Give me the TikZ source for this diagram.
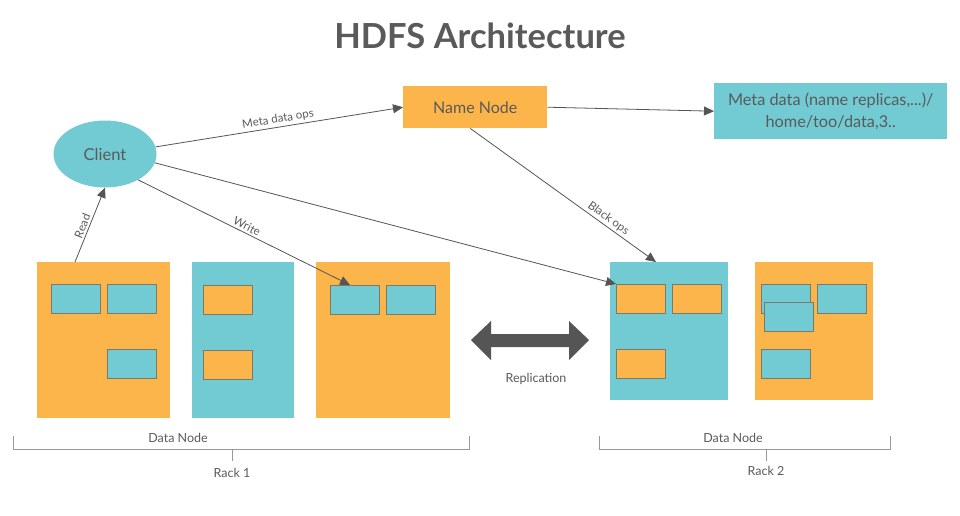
\documentclass[tikz,border=0pt]{standalone}
\usepackage{fontspec}
\setmainfont{Lato}
\usetikzlibrary{arrows.meta,shapes.geometric}
\definecolor{hOrange}{HTML}{FBB54A}
\definecolor{hTeal}{HTML}{72CBD3}
\definecolor{hText}{HTML}{5A5A5A}
\definecolor{hLine}{HTML}{555555}
\definecolor{hEdge}{HTML}{7A7A6A}
\definecolor{hBracket}{HTML}{999999}
\tikzset{
  bigbox/.style={draw=none, inner sep=0, outer sep=0, anchor=north west},
  blk/.style={draw=hEdge, line width=0.9pt, inner sep=0, outer sep=0, anchor=north west, minimum width=49, minimum height=29},
  arr/.style={draw=hLine, line width=0.8pt, -{Triangle[length=10pt,width=9pt]}},
  elabel/.style={font=\fontsize{11.5}{13}\selectfont, text=hText, sloped, inner sep=2pt},
  bracket/.style={draw=hBracket, line width=1pt},
  blabel/.style={font=\fontsize{12.5}{14}\selectfont, text=hText},
}
\begin{document}
\begin{tikzpicture}[x=1pt,y=-1pt]
\useasboundingbox (0,0) rectangle (960,515);
\fill[white] (0,0) rectangle (960,515);

% title
\node[font=\bfseries\fontsize{34.5}{38}\selectfont, text=hText] (title) at (480,36) {HDFS Architecture};

% client
\node[ellipse, fill=hTeal, minimum width=103, minimum height=67, inner sep=0, text=hText, font=\fontsize{16.5}{18}\selectfont] (client) at (105,154) {Client};

% name node
\node[fill=hOrange, minimum width=144, minimum height=42, inner sep=0, anchor=north west] (nn) at (403,86) {};
\node[text=hText, font=\fontsize{16}{18}\selectfont] (nntext) at (nn.center) {Name Node};

% meta data
\node[fill=hTeal, minimum width=233, minimum height=56, inner sep=0, anchor=north west] (meta) at (714,83) {};
\node[text=hText, font=\fontsize{16.3}{22}\selectfont, align=center] (metatext) at (meta.center) {Meta data (name replicas,...)/\\home/too/data,3..};

% rack 1 data nodes
\node[bigbox, fill=hOrange, minimum width=133, minimum height=156] (dnA) at (37,262) {};
\node[bigbox, fill=hTeal, minimum width=102, minimum height=156] (dnB) at (192,262) {};
\node[bigbox, fill=hOrange, minimum width=134, minimum height=156] (dnC) at (316,262) {};

\node[blk, fill=hTeal] (a1) at (51,284) {};
\node[blk, fill=hTeal] (a2) at (107,284) {};
\node[blk, fill=hTeal] (a3) at (107,349) {};
\node[blk, fill=hOrange] (b1) at (203,285) {};
\node[blk, fill=hOrange] (b2) at (203,350) {};
\node[blk, fill=hTeal] (c1) at (330,285) {};
\node[blk, fill=hTeal] (c2) at (386,285) {};

% rack 2 data nodes
\node[bigbox, fill=hTeal, minimum width=118, minimum height=138] (dnD) at (610,262) {};
\node[bigbox, fill=hOrange, minimum width=118, minimum height=138] (dnE) at (755,262) {};

\node[blk, fill=hOrange] (d1) at (616,284) {};
\node[blk, fill=hOrange] (d2) at (672,284) {};
\node[blk, fill=hOrange] (d3) at (616,349) {};
\node[blk, fill=hTeal] (e1) at (761,284) {};
\node[blk, fill=hTeal] (e2) at (817,284) {};
\node[blk, fill=hTeal] (e3) at (764,302) {};
\node[blk, fill=hTeal] (e4) at (761,349) {};

% replication double arrow
\fill[hLine] (471,340) -- (491,321) -- (491,334) -- (569,334) -- (569,321) -- (589,340)
  -- (569,360) -- (569,347) -- (491,347) -- (491,360) -- cycle;
\node[font=\fontsize{12.5}{14}\selectfont, text=hText] (repl) at (536,379) {Replication};

% brackets
\draw[bracket] (13,436) -- (13,449) -- (469,449) -- (469,436);
\draw[bracket] (232,449) -- (232,461);
\node[blabel] (dn1) at (178,438) {Data Node};
\node[blabel] (rack1) at (232,473) {Rack 1};

\draw[bracket] (599,436) -- (599,449) -- (890,449) -- (890,436);
\draw[bracket] (766,449) -- (766,461);
\node[blabel] (dn2) at (733,438) {Data Node};
\node[blabel] (rack2) at (766,471) {Rack 2};

% connectors
\draw[arr] ([xshift=38pt]dnA.north west) -- node[elabel, above, pos=0.45] {Read} (client.south);
\draw[arr] (client.8) -- node[elabel, above, pos=0.5] {Meta data ops} (nn.west);
\draw[arr] (client.-38) -- node[elabel, above, pos=0.5] {Write} ([xshift=20pt]c1.north west);
\draw[arr] (client.-10) -- (d1.north west);
\draw[arr] ([xshift=-5pt]nn.south) -- node[elabel, above, pos=0.72] {Black ops} ([xshift=46pt]dnD.north west);
\draw[arr] (nn.east) -- (meta.west);
\end{tikzpicture}
\end{document}
